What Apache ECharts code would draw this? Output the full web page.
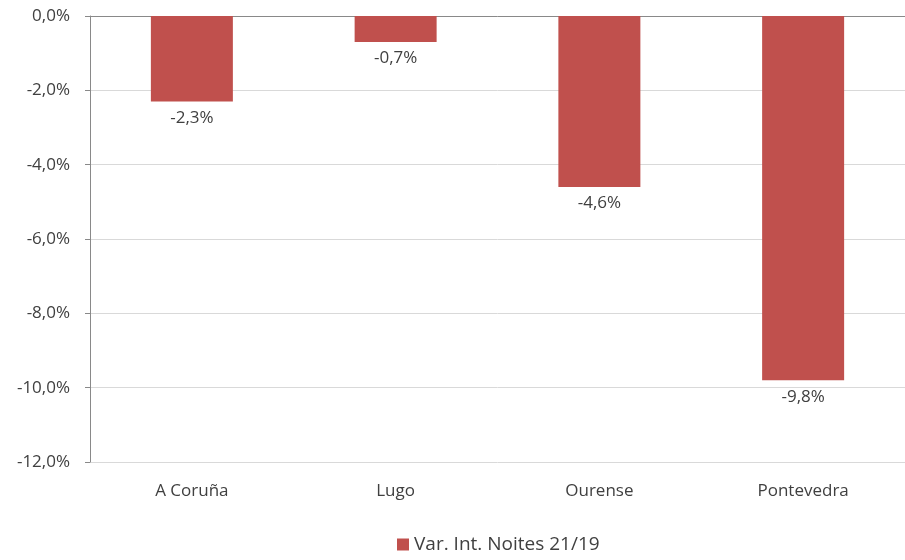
<!DOCTYPE html>
<html>
<head>
<meta charset="utf-8">
<script src="https://cdn.jsdelivr.net/npm/echarts@6/dist/echarts.min.js"></script>
<style>
  html, body { margin: 0; padding: 0; background: #fff; }
  #chart { width: 905px; height: 560px; }
</style>
</head>
<body>
<div id="chart"></div>
<script>
const CATEGORIES = ['A Coruña', 'Lugo', 'Ourense', 'Pontevedra'];
const VALUES = [-2.3, -0.7, -4.6, -9.8];
const SERIES_NAME = 'Var. Int. Noites 21/19';
const Y_MIN = -12;
const Y_MAX = 0;
const Y_STEP = 2;

const FONT = '"Open Sans", Lato, sans-serif';
const TEXT_COLOR = '#404040';
const BAR_COLOR = '#c0504d';

function pct(v) {
    const s = Math.abs(v).toFixed(1).replace('.', ',') + '%';
    return v < 0 ? '-' + s : s;
}

const chart = echarts.init(document.getElementById('chart'));

chart.setOption({
    animation: false,
    textStyle: { fontFamily: FONT },
    grid: { left: 90, right: -10, top: 16, bottom: 98 },
    legend: {
        bottom: 1,
        left: 392,
        itemWidth: 12,
        itemHeight: 12,
        icon: 'rect',
        itemGap: 5,
        textStyle: { color: TEXT_COLOR, fontSize: 19, fontFamily: FONT },
        data: [SERIES_NAME]
    },
    xAxis: [{
        type: 'category',
        data: CATEGORIES,
        position: 'bottom',
        axisLine: { show: false, onZero: false },
        axisTick: { show: false },
        axisLabel: { color: TEXT_COLOR, fontSize: 17, margin: 21, fontFamily: FONT }
    }, {
        type: 'category',
        data: CATEGORIES,
        position: 'top',
        axisLine: { show: true, onZero: false, lineStyle: { color: '#898989', width: 1 } },
        axisTick: { show: false },
        axisLabel: { show: false }
    }],
    yAxis: {
        type: 'value',
        min: Y_MIN,
        max: Y_MAX,
        interval: Y_STEP,
        axisLine: { show: true, lineStyle: { color: '#898989' } },
        axisTick: { show: true, length: 5, lineStyle: { color: '#898989' } },
        splitLine: { lineStyle: { color: '#d9d9d9', width: 1 } },
        axisLabel: {
            color: TEXT_COLOR,
            fontSize: 17,
            margin: 20,
            fontFamily: FONT,
            formatter: (v) => pct(v)
        }
    },
    series: [{
        name: SERIES_NAME,
        type: 'bar',
        data: VALUES,
        barWidth: 82,
        itemStyle: { color: BAR_COLOR },
        label: {
            show: true,
            position: 'bottom',
            distance: 8,
            color: TEXT_COLOR,
            fontSize: 17,
            fontFamily: FONT,
            formatter: (p) => pct(p.value)
        }
    }]
});

window.addEventListener('resize', () => chart.resize());
</script>
</body>
</html>
